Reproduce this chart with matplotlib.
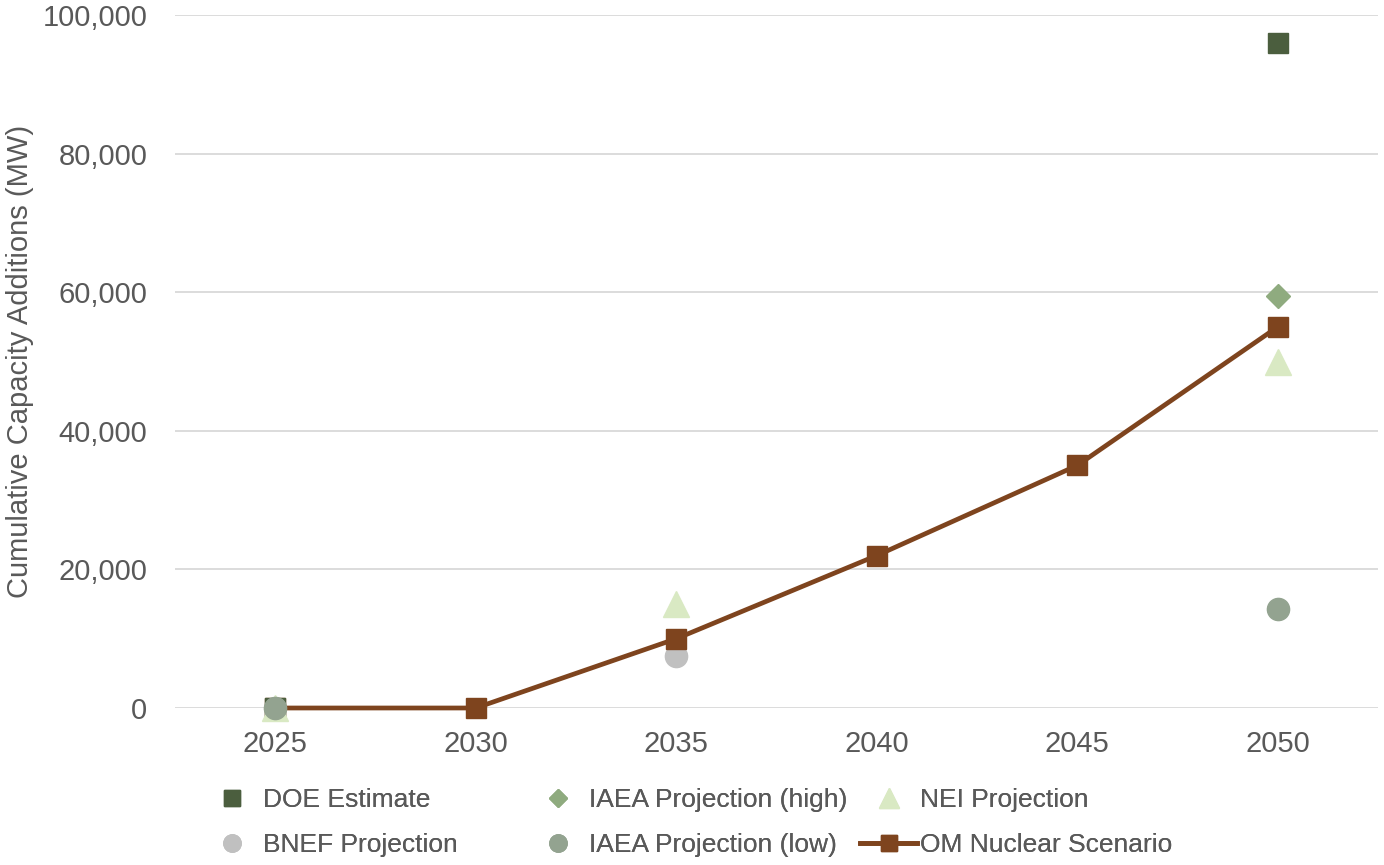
import matplotlib.pyplot as plt
from matplotlib.ticker import FuncFormatter

plt.rcParams['font.family'] = ['Liberation Sans', 'DejaVu Sans']

years = ["2025", "2030", "2035", "2040", "2045", "2050"]

# scenario line, one value per year
om_nuclear = [0, 0, 10000, 22000, 35000, 55000]

# outside projections: (year, value) points
doe_years, doe_vals = ["2025", "2050"], [0, 96000]
iaea_high_years, iaea_high_vals = ["2050"], [59500]
nei_years, nei_vals = ["2025", "2035", "2050"], [0, 15000, 50000]
bnef_years, bnef_vals = ["2035"], [7500]
iaea_low_years, iaea_low_vals = ["2025", "2050"], [0, 14300]

c_doe = "#4b5e3e"
c_high = "#8fab7f"
c_nei = "#d9e9c3"
c_bnef = "#c0c0c0"
c_low = "#93a390"
c_om = "#7e441e"
c_text = "#595959"

pos = {y: i for i, y in enumerate(years)}

W, H = 1384, 865
fig = plt.figure(figsize=(W / 100, H / 100), dpi=100)
ax = fig.add_axes([175 / W, 1 - 708 / H, 1203 / W, 693 / H])

ax.plot([pos[y] for y in bnef_years], bnef_vals, 'o', ms=16, color=c_bnef,
        ls='none', label="BNEF Projection", zorder=3)
ax.plot(range(len(years)), om_nuclear, '-s', ms=14.5, lw=3.4, color=c_om,
        label="OM Nuclear Scenario", zorder=4)
ax.plot([pos[y] for y in doe_years], doe_vals, 's', ms=14.5, color=c_doe,
        ls='none', label="DOE Estimate", zorder=5)
ax.plot([pos[y] for y in iaea_high_years], iaea_high_vals, 'D', ms=12, color=c_high,
        ls='none', label="IAEA Projection (high)", zorder=5)
ax.plot([pos[y] for y in nei_years], nei_vals, '^', ms=19, color=c_nei,
        ls='none', label="NEI Projection", zorder=6)
ax.plot([pos[y] for y in iaea_low_years], iaea_low_vals, 'o', ms=16, color=c_low,
        ls='none', label="IAEA Projection (low)", zorder=7)

ax.set_xlim(-0.5, len(years) - 0.5)
ax.set_ylim(0, 100000)
ax.set_xticks(range(len(years)))
ax.set_xticklabels(years)
ax.set_yticks(range(0, 100001, 20000))
ax.yaxis.set_major_formatter(FuncFormatter(lambda v, p: f"{int(v):,}"))
ax.tick_params(length=0, labelsize=21, labelcolor=c_text)
ax.tick_params(axis='x', pad=16)
ax.tick_params(axis='y', pad=20)
ax.grid(axis='y', color="#d9d9d9", lw=1.3)
ax.set_axisbelow(True)
for s in ax.spines.values():
    s.set_visible(False)
for ln in ax.lines:
    ln.set_clip_on(False)

fig.text(20 / W, 1 - 361 / H, "Cumulative Capacity Additions (MW)", rotation=90,
         ha='center', va='center', fontsize=21, color=c_text)

# legend: three fixed-width columns of two entries
h, l = ax.get_legend_handles_labels()
lut = dict(zip(l, h))
columns = [["DOE Estimate", "BNEF Projection"],
           ["IAEA Projection (high)", "IAEA Projection (low)"],
           ["NEI Projection", "OM Nuclear Scenario"]]
col_x = [203, 529, 860]
for names, x0 in zip(columns, col_x):
    lg = fig.legend([lut[k] for k in names], names, loc='center left',
                    bbox_to_anchor=(x0 / W, 1 - 822.5 / H), frameon=False,
                    fontsize=19, markerscale=0.78, handlelength=2.16,
                    handletextpad=0.12, labelspacing=0.78, borderpad=0,
                    borderaxespad=0, labelcolor=c_text)
    fig.add_artist(lg)

fig.savefig("out.png", dpi=100)
